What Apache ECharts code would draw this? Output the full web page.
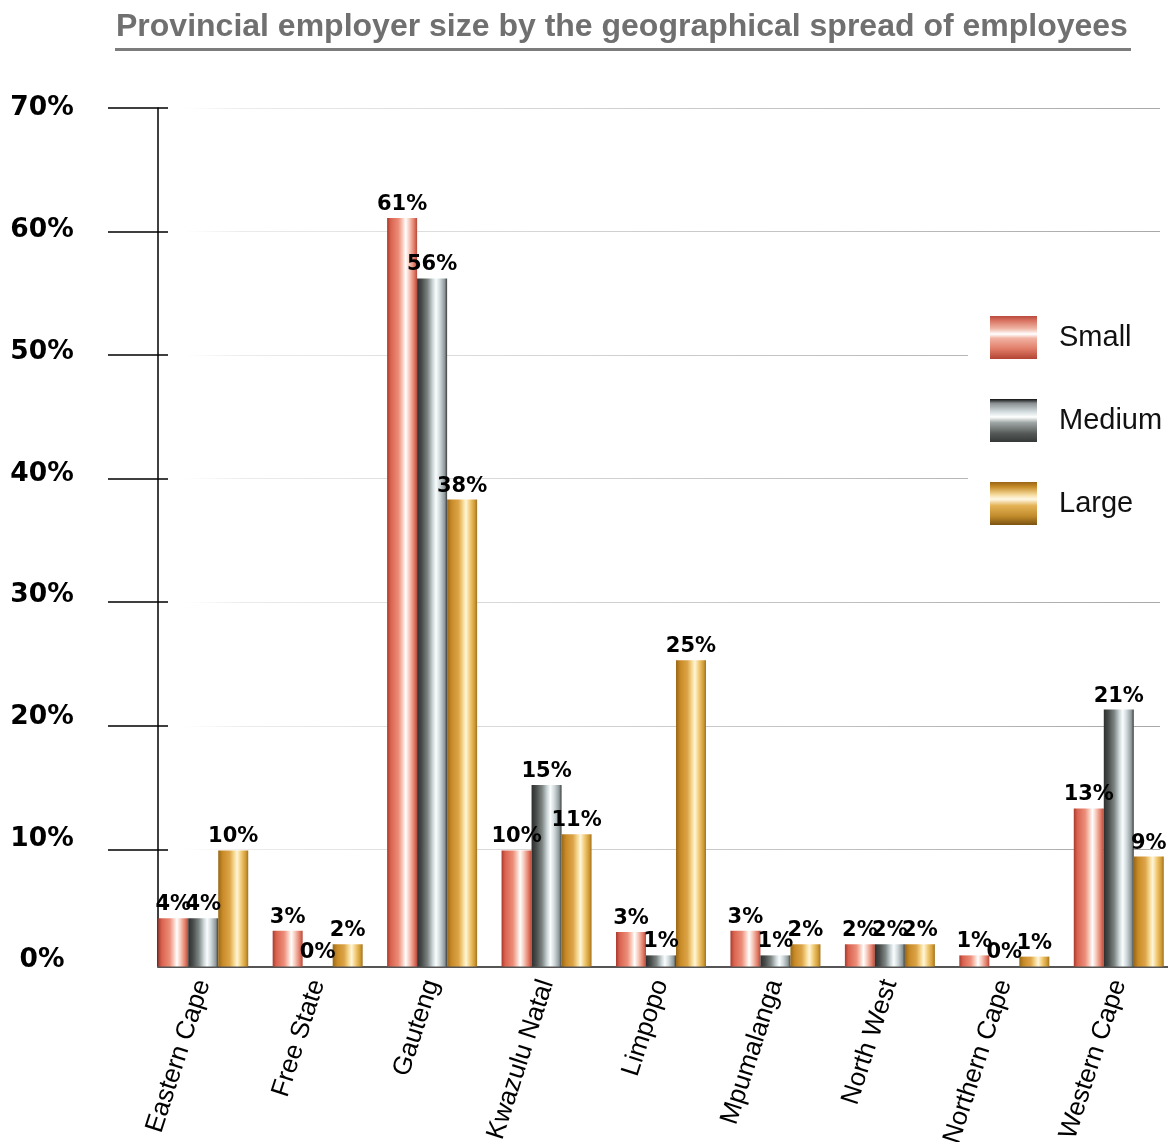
<!DOCTYPE html>
<html>
<head>
<meta charset="utf-8">
<title>Provincial employer size by the geographical spread of employees</title>
<script src="https://cdn.jsdelivr.net/npm/echarts@6/dist/echarts.min.js"></script>
<style>
  html, body { margin: 0; padding: 0; background: #fff; }
  #chart { width: 1168px; height: 1142px; }
</style>
</head>
<body>
<div id="chart"></div>
<script>
// Share of employers (%) per province, by employer size
const categories = ['Eastern Cape', 'Free State', 'Gauteng', 'Kwazulu Natal', 'Limpopo',
  'Mpumalanga', 'North West', 'Northern Cape', 'Western Cape'];
const seriesNames = ['Small', 'Medium', 'Large'];
const smallValues  = [4.4, 3.4, 61.1, 9.9, 3.3, 3.4, 2.3, 1.4, 13.3];
const mediumValues = [4.4, 0, 56.2, 15.2, 1.4, 1.4, 2.3, 0, 21.3];
const largeValues  = [9.9, 2.3, 38.3, 11.2, 25.3, 2.3, 2.3, 1.3, 9.4];
const yTickValues = [0, 10, 20, 30, 40, 50, 60, 70];

const chart = echarts.init(document.getElementById('chart'), null, { renderer: 'canvas' });

function grad(horizontal, stops) {
  return new echarts.graphic.LinearGradient(0, 0, horizontal ? 1 : 0, horizontal ? 0 : 1,
    stops.map(s => ({ offset: s[0], color: s[1] })));
}

// metallic fills: bars shade left-to-right, legend swatches top-to-bottom
const smallStops = [[0, '#a93a2e'], [0.12, '#d9634f'], [0.38, '#ec8d79'], [0.52, '#f9cdbf'],
  [0.62, '#ffffff'], [0.74, '#f7cbbd'], [0.9, '#e27b67'], [1, '#b64a3b']];
const mediumStops = [[0, '#2c2f2d'], [0.15, '#474b49'], [0.35, '#7d8583'], [0.52, '#cdd7d9'],
  [0.63, '#fbfdfd'], [0.76, '#cfd9dc'], [0.92, '#8f9899'], [1, '#3a3c3b']];
const largeStops = [[0, '#996816'], [0.15, '#c98b28'], [0.38, '#dca447'], [0.53, '#f6d993'],
  [0.63, '#fff6da'], [0.76, '#f3cc78'], [0.92, '#cf9a34'], [1, '#a2711f']];

const legendStops = [
  [[0, '#b84a3e'], [0.1, '#d8705e'], [0.3, '#f0b8a8'], [0.42, '#ffffff'], [0.52, '#f2b2a2'],
   [0.75, '#e2806c'], [1, '#b44434']],
  [[0, '#111111'], [0.1, '#8a9092'], [0.3, '#d4dde0'], [0.42, '#ffffff'], [0.55, '#9ea6a5'],
   [0.8, '#555a58'], [1, '#353836']],
  [[0, '#9a6414'], [0.12, '#c8902c'], [0.3, '#f6dca0'], [0.4, '#fff8e6'], [0.55, '#e4b356'],
   [0.8, '#c08a2a'], [1, '#7a5210']]
];
const barStops = [smallStops, mediumStops, largeStops];
const valueSets = [smallValues, mediumValues, largeValues];

const labelFont = 'DejaVu Sans';

const option = {
  animation: false,
  backgroundColor: '#ffffff',
  title: {
    text: 'Provincial employer size by the geographical spread of employees',
    left: 116,
    top: 11,
    padding: 0,
    textStyle: {
      fontFamily: 'Liberation Sans',
      fontWeight: 'bold',
      fontSize: 32,
      color: '#707070'
    }
  },
  graphic: [{
    type: 'line',
    shape: { x1: 115, y1: 49.5, x2: 1131, y2: 49.5 },
    style: { stroke: '#7c7c7c', lineWidth: 3 }
  }],
  legend: {
    orient: 'vertical',
    left: 968,
    top: 300,
    padding: [16, 0, 16, 22],
    backgroundColor: '#ffffff',
    itemWidth: 47,
    itemHeight: 43,
    itemGap: 40,
    icon: 'rect',
    textStyle: {
      fontFamily: 'Liberation Sans',
      fontSize: 29,
      color: '#111111',
      padding: [5, 0, 0, 17]
    },
    data: seriesNames.map((n, i) => ({ name: n, itemStyle: { color: grad(false, legendStops[i]) } }))
  },
  grid: [
    // bars
    { left: 146, width: 1030, top: 108, height: 858.5, outerBoundsMode: 'none', containLabel: false },
    // axis frame (vertical axis line and baseline)
    { left: 158, right: 0, top: 108, height: 858.5, outerBoundsMode: 'none', containLabel: false },
    // ticks and horizontal guide lines
    { left: 168, right: 8, top: 108, height: 741.3, outerBoundsMode: 'none', containLabel: false },
    // percentage labels
    { left: 158, right: 0, top: 108.5, height: 852, outerBoundsMode: 'none', containLabel: false }
  ],
  xAxis: [
    {
      type: 'category', gridIndex: 0, data: categories,
      axisLine: { show: false }, axisTick: { show: false },
      axisLabel: {
        interval: 0, rotate: 72, margin: 14,
        fontFamily: 'Liberation Sans', fontSize: 26, color: '#000000'
      }
    },
    {
      type: 'value', gridIndex: 1, min: 0, max: 1,
      axisLine: { show: true, lineStyle: { color: '#555555', width: 2 } },
      axisTick: { show: false }, axisLabel: { show: false }, splitLine: { show: false }
    },
    { type: 'value', gridIndex: 2, show: false },
    { type: 'value', gridIndex: 3, show: false }
  ],
  yAxis: [
    {
      type: 'value', gridIndex: 0, min: 0.5, max: 70, startValue: 0.5, show: false
    },
    {
      type: 'value', gridIndex: 1, min: 0.5, max: 70,
      axisLine: { show: true, lineStyle: { color: '#000000', width: 1.5 } },
      axisTick: { show: false }, axisLabel: { show: false }, splitLine: { show: false }
    },
    {
      type: 'value', gridIndex: 2, min: 10, max: 70, interval: 10,
      axisLine: { show: false },
      axisTick: { show: true, length: 60, lineStyle: { color: '#000000', width: 1.5 } },
      axisLabel: { show: false },
      splitLine: {
        show: true,
        lineStyle: { width: 1, color: grad(true, [[0, '#ffffff'], [0.02, '#ffffff'], [0.08, '#ebebeb'], [1, '#a8a8a8']]) }
      }
    },
    {
      type: 'value', gridIndex: 3, min: 0, max: 70, interval: 10,
      axisLine: { show: false }, axisTick: { show: false }, splitLine: { show: false },
      axisLabel: {
        margin: 116, align: 'center', verticalAlign: 'middle',
        fontFamily: labelFont, fontWeight: 'bold', fontSize: 26.5, color: '#000000',
        customValues: yTickValues,
        formatter: v => v + '%'
      }
    }
  ],
  series: seriesNames.map((name, i) => ({
    name: name,
    type: 'bar',
    xAxisIndex: 0,
    yAxisIndex: 0,
    data: valueSets[i],
    barWidth: 30,
    barGap: '0%',
    itemStyle: { color: grad(true, barStops[i]) },
    label: {
      show: true,
      position: 'top',
      distance: 3,
      fontFamily: labelFont,
      fontWeight: 'bold',
      fontSize: 21,
      color: '#000000',
      formatter: p => Math.round(p.value) + '%'
    }
  }))
};

chart.setOption(option);
</script>
</body>
</html>
